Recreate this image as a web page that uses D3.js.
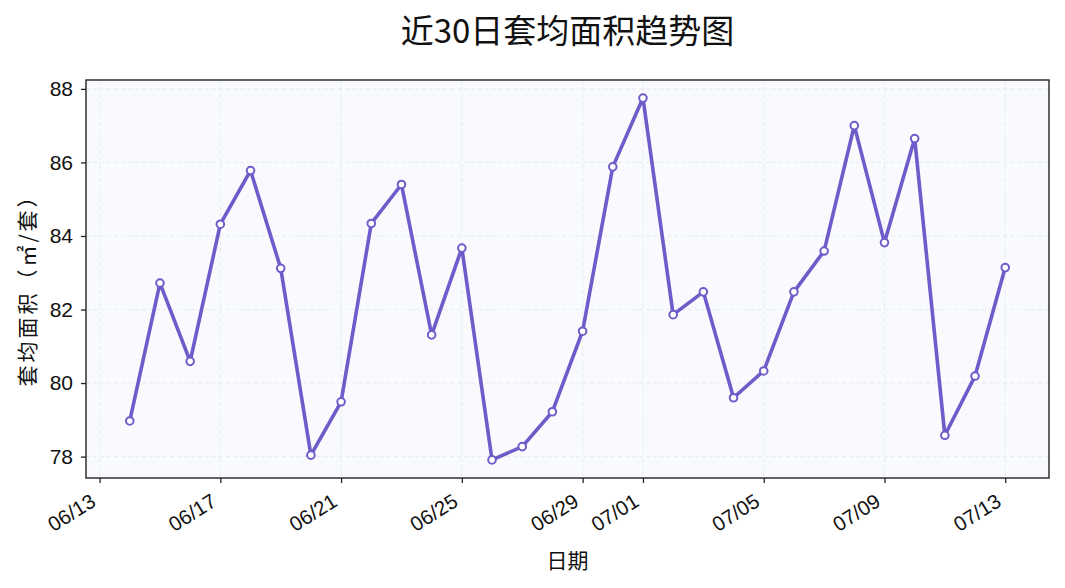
<!DOCTYPE html>
<html><head><meta charset="utf-8">
<script src="https://cdn.jsdelivr.net/npm/d3@7"></script>
<style>
body{margin:0;background:#fff;}
text{font-family:"Liberation Sans","Noto Sans CJK SC",sans-serif;}
</style></head>
<body><svg id="c" width="1065" height="588"></svg>
<script>
const dates = ["2025-06-14","2025-06-15","2025-06-16","2025-06-17","2025-06-18","2025-06-19","2025-06-20","2025-06-21","2025-06-22","2025-06-23","2025-06-24","2025-06-25","2025-06-26","2025-06-27","2025-06-28","2025-06-29","2025-06-30","2025-07-01","2025-07-02","2025-07-03","2025-07-04","2025-07-05","2025-07-06","2025-07-07","2025-07-08","2025-07-09","2025-07-10","2025-07-11","2025-07-12","2025-07-13"];
const avgArea = [78.97,82.72,80.59,84.32,85.78,83.12,78.04,79.49,84.34,85.40,81.31,83.67,77.91,78.27,79.22,81.41,85.88,87.75,81.86,82.48,79.60,80.33,82.48,83.59,87.00,83.82,86.65,78.58,80.19,83.14];
const xTickDates = ["2025-06-13","2025-06-17","2025-06-21","2025-06-25","2025-06-29","2025-07-01","2025-07-05","2025-07-09","2025-07-13"];
const yTicks = [78,80,82,84,86,88];
const title = "近30日套均面积趋势图";
const xLabel = "日期";
const yLabel = "套均面积（㎡/套）";

const parse = d3.utcParse("%Y-%m-%d");
const data = dates.map((d,i)=>({date:parse(d), v:avgArea[i]}));
const L=86, R=1049, T=80, B=478;
const svg = d3.select("#c");

const dmin = d3.min(data,d=>d.date), dmax = d3.max(data,d=>d.date);
const span = dmax - dmin;
const x = d3.scaleUtc().domain([new Date(+dmin - span*0.05), new Date(+dmax + span*0.05)]).range([L,R]);
const vmin = d3.min(avgArea), vmax = d3.max(avgArea), vr = vmax-vmin;
const y = d3.scaleLinear().domain([vmin - vr*0.05, vmax + vr*0.05]).range([B,T]);

svg.append("rect").attr("x",L).attr("y",T).attr("width",R-L).attr("height",B-T).attr("fill","#f9fafd");

const xt = xTickDates.map(parse);
// grid
svg.append("g").selectAll("line").data(xt).join("line")
  .attr("x1",d=>x(d)).attr("x2",d=>x(d)).attr("y1",T).attr("y2",B)
  .attr("stroke","#e2e6f0").attr("stroke-width",0.8).attr("stroke-dasharray","4,3");
svg.append("g").selectAll("line").data(yTicks).join("line")
  .attr("x1",L).attr("x2",R).attr("y1",d=>y(d)).attr("y2",d=>y(d))
  .attr("stroke","#e2e6f0").attr("stroke-width",0.8).attr("stroke-dasharray","4,3");

// line
svg.append("path").datum(data)
  .attr("d", d3.line().x(d=>x(d.date)).y(d=>y(d.v)))
  .attr("fill","none").attr("stroke","#6f5bc9").attr("stroke-width",3.6).attr("stroke-linejoin","round");
svg.append("g").selectAll("circle").data(data).join("circle")
  .attr("cx",d=>x(d.date)).attr("cy",d=>y(d.v)).attr("r",3.8)
  .attr("fill","#fff").attr("stroke","#6f5bc9").attr("stroke-width",2);

// axes
const fmt = d3.utcFormat("%m/%d");
const gx = svg.append("g").attr("transform",`translate(0,${B})`)
  .call(d3.axisBottom(x).tickValues(xt).tickFormat(fmt).tickSize(5).tickSizeOuter(0));
gx.select(".domain").remove();
gx.selectAll(".tick line").attr("stroke","#222").attr("stroke-width",1.3);
gx.selectAll(".tick text").attr("font-size",20.5).attr("fill","#111")
  .attr("text-anchor","end").attr("dy",0).attr("y",0)
  .attr("transform","translate(-3,27) rotate(-32)");

const gy = svg.append("g").attr("transform",`translate(${L},0)`)
  .call(d3.axisLeft(y).tickValues(yTicks).tickSize(5).tickSizeOuter(0).tickPadding(8));
gy.select(".domain").remove();
gy.selectAll(".tick line").attr("stroke","#222").attr("stroke-width",1.3);
gy.selectAll(".tick text").attr("font-size",21).attr("fill","#111");

svg.append("rect").attr("x",L).attr("y",T).attr("width",R-L).attr("height",B-T)
  .attr("fill","none").attr("stroke","#222").attr("stroke-width",1.4);

svg.append("text").attr("x",(L+R)/2).attr("y",43).attr("text-anchor","middle")
  .attr("font-size",33).attr("fill","#111").style("font-family","'Noto Sans CJK SC',sans-serif").text(title);
svg.append("text").attr("x",(L+R)/2).attr("y",568).attr("text-anchor","middle")
  .attr("font-size",21).attr("fill","#111").style("font-family","'Noto Sans CJK SC',sans-serif").text(xLabel);
svg.append("text").attr("transform",`translate(35,${(T+B)/2 + 6}) rotate(-90)`).attr("text-anchor","middle")
  .attr("font-size",21).attr("letter-spacing","3px").attr("fill","#111").style("font-family","'Noto Sans CJK SC',sans-serif").text(yLabel);
</script></body></html>
